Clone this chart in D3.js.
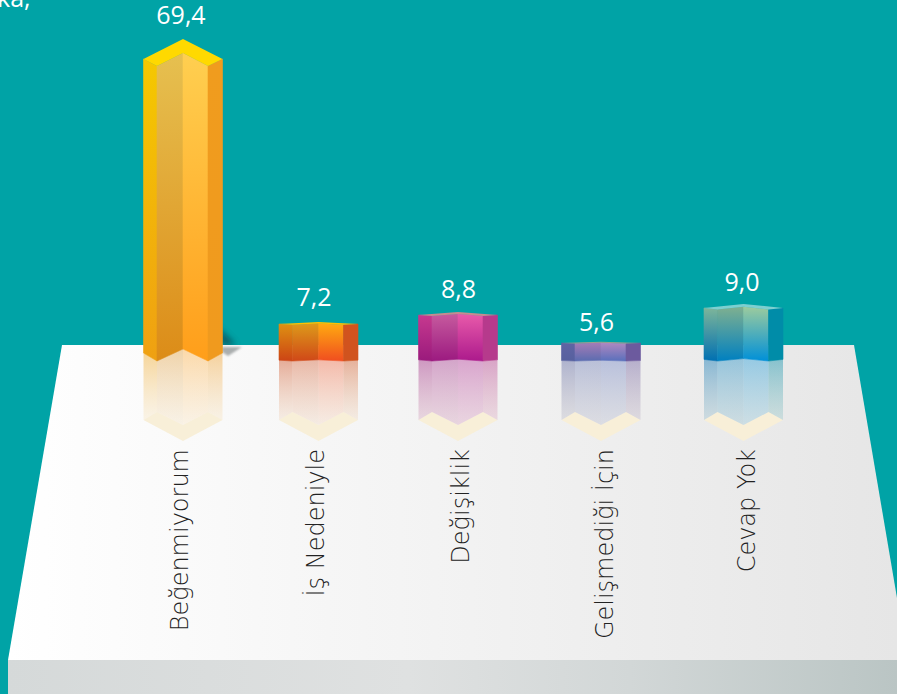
<!DOCTYPE html>
<html lang="tr"><head><meta charset="utf-8">
<script src="https://cdn.jsdelivr.net/npm/d3@7/dist/d3.min.js"></script>
<style>html,body{margin:0;padding:0;background:#00A3A6;overflow:hidden}svg{display:block}text{font-family:"Open Sans",Lato,sans-serif}</style>
</head><body><svg id="c" width="897" height="694"></svg>
<script>
const categories=["Beğenmiyorum","İş Nedeniyle","Değişiklik","Gelişmediği İçin","Cevap Yok"];
const values=[69.4,7.2,8.8,5.6,9.0];
const valueLabels=["69,4","7,2","8,8","5,6","9,0"];
// faces: [top,bottom] colours of left outer, inner left, inner right, right outer, and top cap
const leftOuter=[["#F5C800","#EFA012"],["#DE9012","#CC4415"],["#C6398F","#9A1A7C"],["#5F64A4","#56609F"],["#7DB59A","#0070B2"]];
const innerLeft=[["#E6C050","#DC8C18"],["#DD9A1A","#D04818"],["#C65A9E","#9C1A80"],["#A57CB6","#5B6CB0"],["#7FB090","#0080C0"]];
const innerRight=[["#FFCF50","#FF9E1A"],["#FFAA10","#F04E20"],["#E85AAA","#AC1A8C"],["#B088C0","#5A70BC"],["#9CCB9E","#0090D8"]];
const rightOuter=[["#F09C1E","#F09A1E"],["#D2531E","#D0531E"],["#B63A8C","#B63A8C"],["#6C5A9E","#6C5A9E"],["#008CA8","#008CA8"]];
const caps=["#FFD900","#FFC000","#C88A90","#9AA090","#7DCFD0"];

const svg=d3.select("#c");
const defs=svg.append("defs");
const W=897,H=694;
const x=d3.scaleOrdinal().domain(categories).range([183,318.5,458,601,743.5]);
const labelX=d3.scaleOrdinal().domain(categories).range([188,324,469,613,755]);
const valueX=d3.scaleOrdinal().domain(categories).range([181,314,458.5,596.5,742]);
const valueY=d3.scaleOrdinal().domain(categories).range([24,306,298,331,291]);
const sorted=[...values].sort(d3.ascending);
// Reference axis is not linear: short bars are stretched, and their chevron flattens
const topY=d3.scaleLinear().domain(sorted).range([343,324,315,308,59]);
const squash=d3.scaleLinear().domain(sorted).range([.06,.1,.15,.2,1]);
const hw=39.5,cl=26,cr=25;

function grad(id,c,o0,o1,horizontal){
  const g=defs.append("linearGradient").attr("id",id).attr("x1",0).attr("y1",0).attr("x2",horizontal?1:0).attr("y2",horizontal?0:1);
  g.append("stop").attr("offset",0).attr("stop-color",c[0]).attr("stop-opacity",o0);
  g.append("stop").attr("offset",1).attr("stop-color",c[1]).attr("stop-opacity",o1);
}
grad("bgPlat",["#FFFFFF","#E6E6E6"],1,1,true);
const fg=defs.append("linearGradient").attr("id","bgFront").attr("x1",0).attr("x2",1).attr("y1",0).attr("y2",0);
[[0,"#D5D9D9"],[.45,"#DFE1E1"],[.7,"#D2D7D7"],[1,"#BAC5C4"]].forEach(s=>fg.append("stop").attr("offset",s[0]).attr("stop-color",s[1]));
const blur=(id,s)=>defs.append("filter").attr("id",id).attr("x","-50%").attr("y","-50%").attr("width","200%").attr("height","200%")
  .append("feGaussianBlur").attr("stdDeviation",s);
blur("blur",3);blur("blurS",1.2);

svg.append("rect").attr("width",W).attr("height",H).attr("fill","#00A3A6");
const line=d3.line();
// shadow falling on the teal behind the tall bar
svg.append("path").attr("d",line([[216,326],[226,335],[236,345],[222,345]])+"Z").attr("fill","#0b4a55").attr("opacity",.8).attr("filter","url(#blur)");
svg.append("path").attr("d",line([[8,660],[62,345],[854,345],[897,598],[897,660]])+"Z").attr("fill","url(#bgPlat)");
svg.append("rect").attr("x",8).attr("y",660).attr("width",W-8).attr("height",34).attr("fill","url(#bgFront)");

// caption fragment cropped by the top edge
svg.append("text").attr("x",-3).attr("y",7).attr("fill","#fff").attr("font-size",25).text("ka,");

const faces=[leftOuter,innerLeft,innerRight,rightOuter];
const g=svg.append("g");
categories.forEach((cat,i)=>{
  const cx=x(cat),v=values[i],k=squash(v),T=topY(v),B=361-8*k;
  const xs=[cx-hw,cx-cl,cx,cx+cr,cx+hw];
  const topLine=[[xs[0],T],[xs[1],T+7*k],[xs[2],T-6*k],[xs[3],T+7*k],[xs[4],T]];
  const botLine=[[xs[0],B],[xs[1],B+8*k],[xs[2],B-4*k],[xs[3],B+8*k],[xs[4],B]];

  // reflection
  const rBot=[[xs[0],420],[xs[1],412],[xs[2],425],[xs[3],412],[xs[4],420]];
  g.append("path").attr("d",line([...rBot,[xs[2],441]])+"Z").attr("fill","#F8EFD8");
  faces.forEach((f,j)=>{
    const id=`r${i}_${j}`;
    const c=f[i][1];
    grad(id,[c,d3.interpolateRgb(c,"#F6E8C8")(i<2?.8:.45)],j==0||j==3?.42:.36,.24);
    g.append("path").attr("d",line([botLine[j],botLine[j+1],rBot[j+1],rBot[j]])+"Z").attr("fill",`url(#${id})`);
  });

  if(i===0) g.append("path").attr("d",line([[222,347],[242,347],[228,356],[222,352]])+"Z").attr("fill","#8a8f90").attr("opacity",.7).attr("filter","url(#blurS)");

  // body
  faces.forEach((f,j)=>{
    const id=`b${i}_${j}`;
    grad(id,f[i],1,1);
    g.append("path").attr("d",line([topLine[j],topLine[j+1],botLine[j+1],botLine[j]])+"Z").attr("fill",`url(#${id})`).attr("stroke",`url(#${id})`).attr("stroke-width",.6);
  });
  // cap
  g.append("path").attr("d",line([[xs[0],T],[cx,T-20*k],[xs[4],T],[xs[3],T+7*k],[xs[2],T-6*k],[xs[1],T+7*k]])+"Z").attr("fill",caps[i]);

  svg.append("text").attr("x",valueX(cat)).attr("y",valueY(cat)).attr("text-anchor","middle").attr("fill","#fff").attr("font-size",25).text(valueLabels[i]);
  svg.append("text").attr("transform",`translate(${labelX(cat)},449) rotate(-90)`).attr("text-anchor","end").attr("fill","#222")
    .style("font-family",'"DejaVu Sans"').style("font-weight",200).attr("font-size",24).text(cat);
});
</script></body></html>
